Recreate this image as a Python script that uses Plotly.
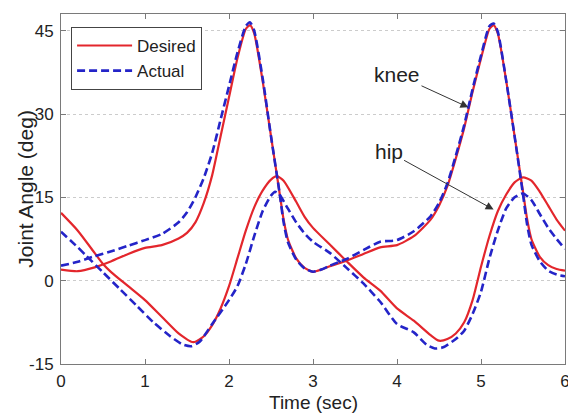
import plotly.graph_objects as go

# ---------------- data ----------------
knee_desired_t = [0, 0.2, 0.4, 0.6, 0.8, 1.0, 1.2, 1.4, 1.5, 1.6, 1.7, 1.8, 1.9, 2.0, 2.1, 2.2, 2.25, 2.3,
                  2.4, 2.5, 2.6, 2.65, 2.7, 2.8, 2.9, 3.0, 3.1, 3.2, 3.4, 3.6, 3.8, 4.0, 4.2, 4.4, 4.5, 4.6,
                  4.7, 4.8, 4.9, 5.0, 5.1, 5.15, 5.2, 5.3, 5.4, 5.5, 5.55, 5.6, 5.7, 5.8, 5.9, 6.0]
knee_desired = [2.0, 1.7, 2.4, 3.5, 4.8, 5.9, 6.4, 7.6, 8.6, 10.5, 14.0, 19.0, 26.0, 33.0, 40.0, 45.3, 46.0, 44.5,
                36.0, 26.0, 16.0, 11.0, 7.5, 4.0, 2.3, 1.6, 2.0, 2.6, 3.6, 4.8, 6.0, 6.4, 8.0, 11.0, 13.5, 17.0,
                22.0, 27.5, 34.0, 40.0, 45.3, 46.0, 44.5, 36.0, 26.0, 16.0, 11.0, 7.5, 4.3, 2.8, 2.1, 1.8]

knee_actual_t = knee_desired_t
knee_actual = [2.7, 3.4, 4.4, 5.3, 6.3, 7.3, 8.4, 10.5, 12.3, 15.0, 18.5, 23.0, 29.0, 35.0, 41.0, 45.8, 46.5, 45.0,
               36.5, 26.0, 16.0, 10.5, 7.0, 3.8, 2.2, 1.6, 2.0, 2.7, 3.9, 5.5, 7.0, 7.3, 8.9, 11.6, 14.0, 17.5,
               22.5, 28.0, 34.5, 40.5, 45.8, 46.3, 44.8, 36.0, 26.0, 15.5, 10.0, 6.5, 3.5, 1.8, 1.1, 0.8]

hip_desired_t = [0, 0.2, 0.4, 0.5, 0.6, 0.8, 1.0, 1.2, 1.4, 1.55, 1.6, 1.7, 1.8, 1.9, 2.0, 2.1, 2.2, 2.3, 2.4,
                 2.5, 2.57, 2.65, 2.8, 2.9, 3.0, 3.2, 3.4, 3.6, 3.8, 4.0, 4.2, 4.4, 4.5, 4.6, 4.7, 4.8, 4.9,
                 5.0, 5.1, 5.2, 5.3, 5.4, 5.5, 5.6, 5.7, 5.8, 5.9, 6.0]
hip_desired = [12.2, 9.0, 5.0, 3.0, 1.5, -1.0, -3.5, -6.5, -9.5, -11.0, -11.0, -10.0, -8.0, -5.0, -1.0, 4.0, 9.0,
               13.2, 16.2, 18.2, 18.8, 18.0, 14.2, 11.5, 9.5, 6.5, 3.5, 0.6, -1.8, -5.0, -7.2, -9.8, -10.8,
               -10.5, -9.5, -7.5, -3.5, 2.5, 8.0, 12.5, 15.5, 17.7, 18.6, 18.0, 16.0, 13.5, 11.0, 9.0]

hip_actual_t = [0, 0.2, 0.3, 0.5, 0.7, 0.9, 1.1, 1.3, 1.45, 1.55, 1.65, 1.8, 2.0, 2.1, 2.2, 2.3, 2.4, 2.5, 2.55,
                2.6, 2.7, 2.8, 2.9, 3.0, 3.2, 3.4, 3.6, 3.8, 4.0, 4.2, 4.35, 4.45, 4.55, 4.7, 4.8, 4.9, 5.0,
                5.1, 5.2, 5.3, 5.4, 5.5, 5.6, 5.7, 5.8, 5.9, 6.0]
hip_actual = [8.8, 6.0, 4.5, 1.5, -1.5, -4.5, -7.5, -10.0, -11.5, -11.8, -11.0, -7.8, -3.5, -1.0, 3.0, 8.0, 12.5,
              15.3, 16.0, 15.5, 13.0, 10.5, 8.5, 7.0, 5.0, 2.3, -0.5, -3.8, -7.8, -9.3, -11.5, -12.2, -12.0,
              -10.5, -9.0, -6.0, -2.0, 4.0, 9.0, 13.0, 15.0, 15.7, 14.5, 12.0, 9.5, 7.5, 5.7]

x_tick_vals = [0, 1, 2, 3, 4, 5, 6]
x_tick_labels = ["0", "1", "2", "3", "4", "5", "6"]
y_tick_vals = [-15, 0, 15, 30, 45]
y_tick_labels = ["-15", "0", "15", "30", "45"]

RED = "#e3262c"
BLUE = "#2424c8"
FONT = "Liberation Sans, Arial, sans-serif"

fig = go.Figure()

fig.add_trace(go.Scatter(x=knee_desired_t, y=knee_desired, mode="lines", name="Desired",
                         legendgroup="d", line=dict(color=RED, width=2.2, shape="spline", smoothing=0.6)))
fig.add_trace(go.Scatter(x=hip_desired_t, y=hip_desired, mode="lines", name="Desired", showlegend=False,
                         legendgroup="d", line=dict(color=RED, width=2.2, shape="spline", smoothing=0.6)))
fig.add_trace(go.Scatter(x=knee_actual_t, y=knee_actual, mode="lines", name="Actual",
                         legendgroup="a", line=dict(color=BLUE, width=2.6, dash="8px,4px",
                                                     shape="spline", smoothing=0.6)))
fig.add_trace(go.Scatter(x=hip_actual_t, y=hip_actual, mode="lines", name="Actual", showlegend=False,
                         legendgroup="a", line=dict(color=BLUE, width=2.6, dash="8px,4px",
                                                     shape="spline", smoothing=0.6)))

# annotations with arrows
fig.add_annotation(x=4.85, y=31.2, ax=4.0, ay=37.1, xref="x", yref="y", axref="x", ayref="y",
                   text="knee", showarrow=True, arrowhead=2, arrowsize=1.6, arrowwidth=1,
                   arrowcolor="#333333", standoff=0, font=dict(family=FONT, size=21, color="#222222"))
fig.add_annotation(x=5.15, y=12.8, ax=3.9, ay=23.2, xref="x", yref="y", axref="x", ayref="y",
                   text="hip", showarrow=True, arrowhead=2, arrowsize=1.6, arrowwidth=1,
                   arrowcolor="#333333", standoff=0, font=dict(family=FONT, size=21, color="#222222"))

# axis titles as annotations (precise placement)
fig.add_annotation(x=-0.072, y=0.5, xref="paper", yref="paper", text="Joint Angle (deg)", textangle=-90,
                   showarrow=False, xanchor="center", yanchor="middle",
                   font=dict(family=FONT, size=21, color="#222222"))
fig.add_annotation(x=0.5, y=-0.11, xref="paper", yref="paper", text="Time (sec)",
                   showarrow=False, xanchor="center", yanchor="middle",
                   font=dict(family=FONT, size=19, color="#222222"))

axis_common = dict(showline=True, linecolor="#7a7a7a", linewidth=1, mirror="allticks", ticks="inside",
                   ticklen=5, tickcolor="#7a7a7a", tickfont=dict(family=FONT, size=17, color="#222222"),
                   zeroline=False, automargin=False)

fig.update_xaxes(range=[0, 6], tickmode="array", tickvals=x_tick_vals, ticktext=x_tick_labels,
                 showgrid=False, ticklabelstandoff=2, ticklabeloverflow="allow", **axis_common)
fig.update_yaxes(range=[-15, 48], tickmode="array", tickvals=y_tick_vals, ticktext=y_tick_labels,
                 showgrid=True, gridcolor="#cccccc", griddash="dot", gridwidth=1, ticklabelstandoff=3,
                 ticklabeloverflow="allow", **axis_common)

fig.update_layout(
    width=568, height=414,
    margin=dict(l=61, r=3, t=14, b=50),
    paper_bgcolor="white", plot_bgcolor="white",
    showlegend=True,
    legend=dict(x=0.02, y=0.963, xanchor="left", yanchor="top", bgcolor="white",
                bordercolor="#444444", borderwidth=1, font=dict(family=FONT, size=17, color="#222222"),
                tracegroupgap=0, itemwidth=55),
)

fig.write_html("out.html", config={"displayModeBar": False},
               post_script="document.body.style.margin='0px';")
